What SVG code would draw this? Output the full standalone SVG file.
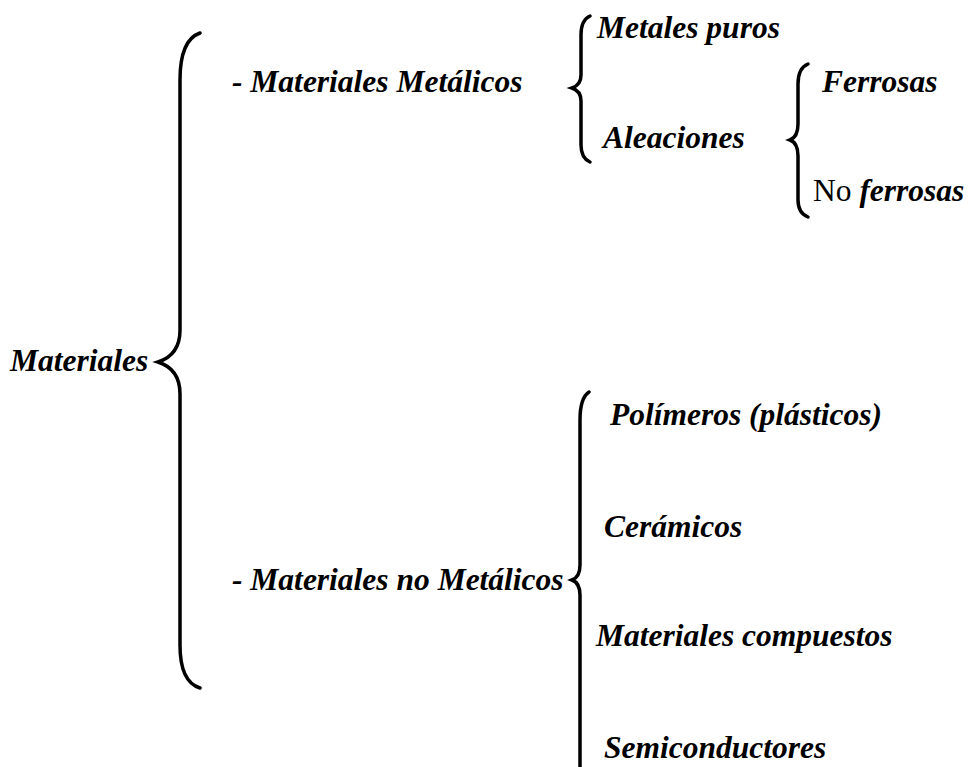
<svg xmlns="http://www.w3.org/2000/svg" width="973" height="767" viewBox="0 0 973 767">
<style>
.t{font-family:"Liberation Serif","Times New Roman",serif;font-size:31.5px;font-weight:bold;font-style:italic;fill:#000}
.r{font-weight:normal;font-style:normal}
.b{fill:none;stroke:#000;stroke-width:3.5;stroke-linecap:round}
</style>
<rect width="973" height="767" fill="#fff"/>
<g id="connectors">
<path class="b" d="M200,33 Q180,40 180,80 L180,330 Q180,355 158,362 Q180,369 180,394 L180,645 Q180,682 200,688"/>
<path class="b" d="M590,16 Q581,20 581,35 L581,75 Q581,85 572,88 Q581,91 581,101 L581,145 Q581,158 590,162"/>
<path class="b" d="M808,64 Q798,68 798,84 L798,124 Q798,137 790,140 Q798,143 798,156 L798,200 Q798,213 808,217"/>
<path class="b" d="M589,392 Q580,398 580,420 L580,565 Q580,577 572,580 Q580,583 580,595 L580,767"/>
</g>
<g id="n-materiales"><text class="t" x="10" y="371">Materiales</text></g>
<g id="n-metalicos"><text class="t" x="232" y="92">- Materiales Metálicos</text></g>
<g id="n-puros"><text class="t" x="597" y="38">Metales puros</text></g>
<g id="n-aleaciones"><text class="t" x="603" y="148">Aleaciones</text></g>
<g id="n-ferrosas"><text class="t" x="822" y="92">Ferrosas</text></g>
<g id="n-noferrosas"><text class="t" x="813" y="201"><tspan class="r">No</tspan> ferrosas</text></g>
<g id="n-nometalicos"><text class="t" x="232" y="590">- Materiales no Metálicos</text></g>
<g id="n-polimeros"><text class="t" x="610" y="425">Polímeros (plásticos)</text></g>
<g id="n-ceramicos"><text class="t" x="604" y="537">Cerámicos</text></g>
<g id="n-compuestos"><text class="t" x="596" y="646">Materiales compuestos</text></g>
<g id="n-semi"><text class="t" x="604" y="758">Semiconductores</text></g>
</svg>
